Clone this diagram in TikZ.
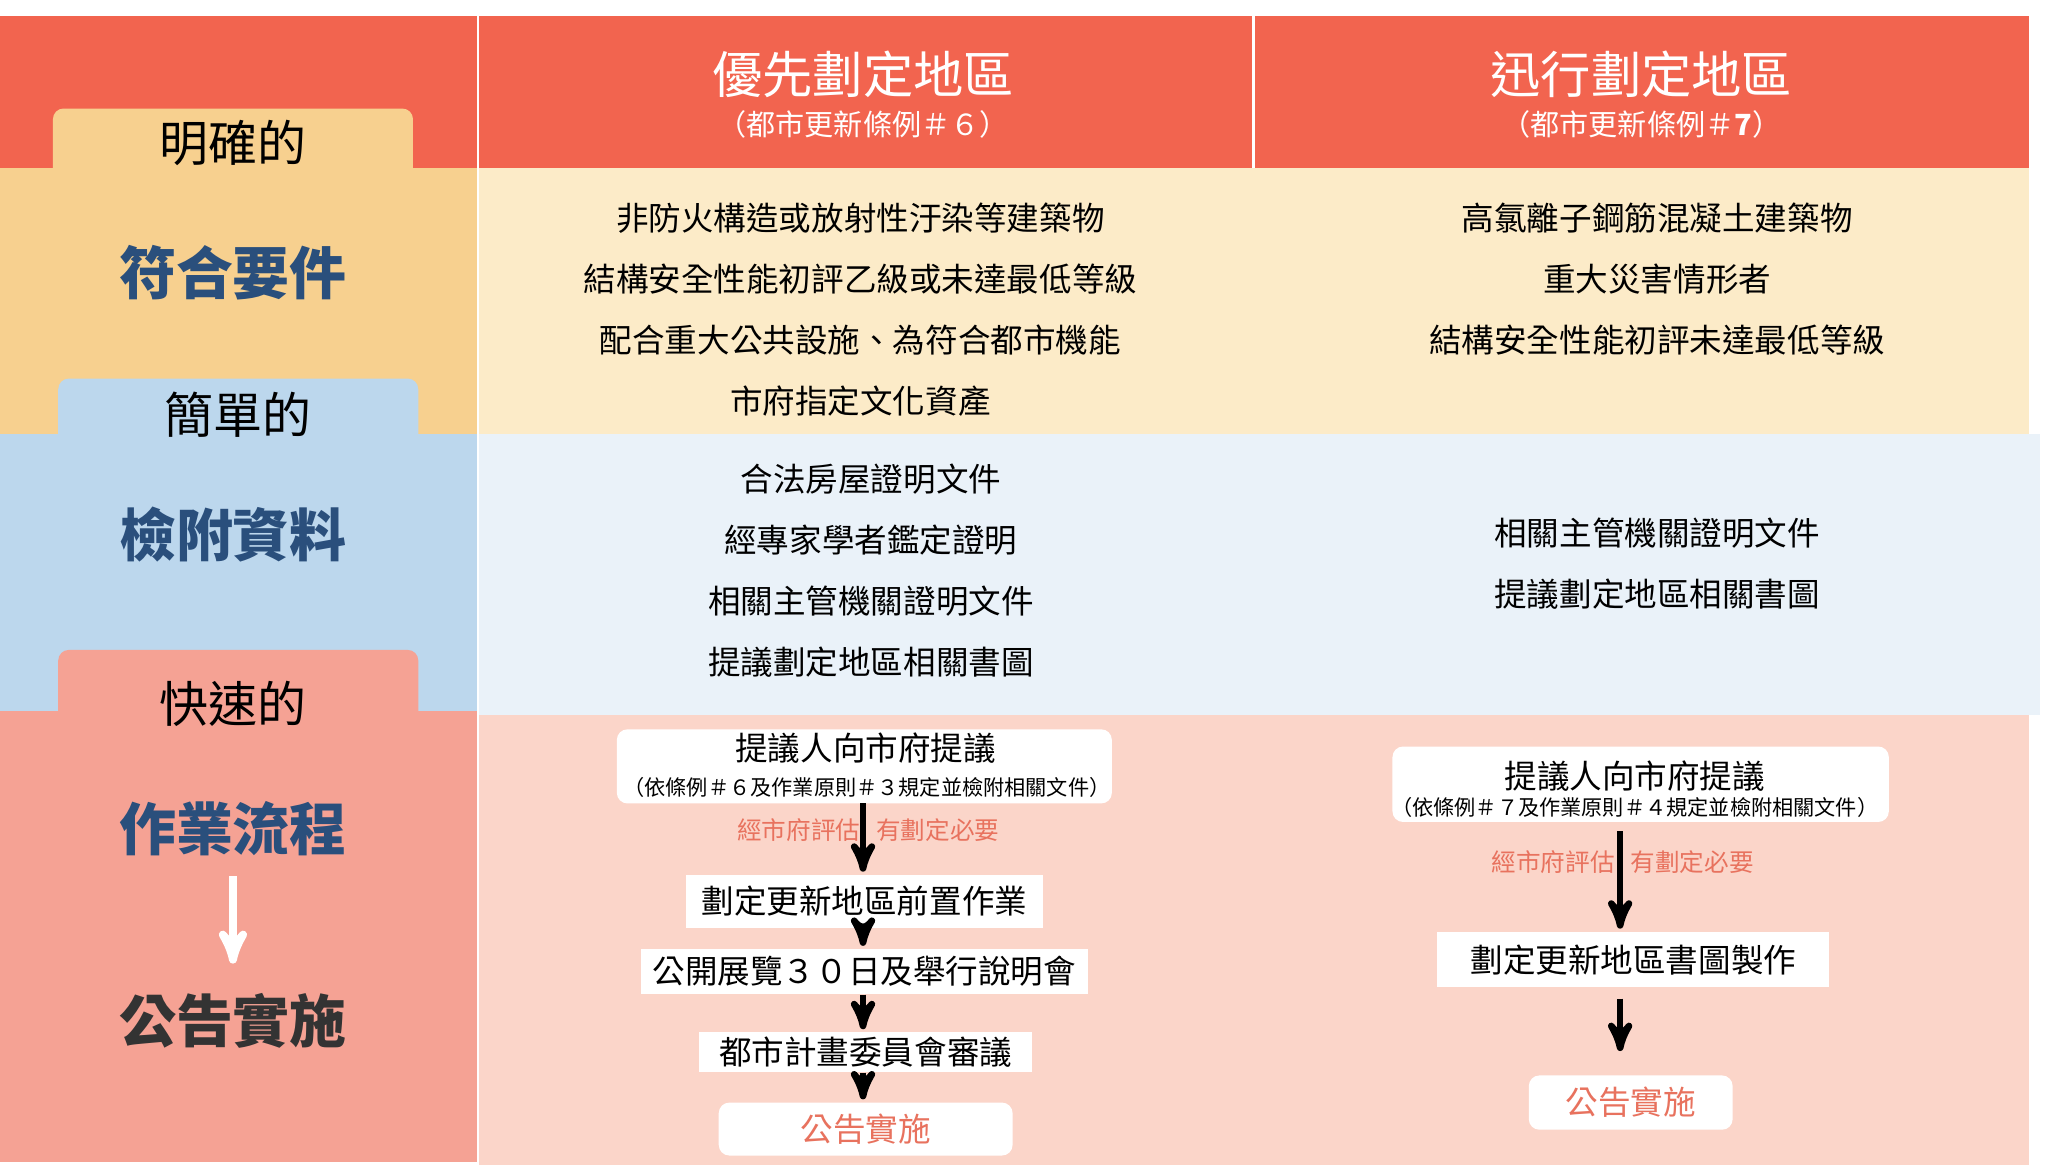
\documentclass[tikz,border=0pt]{standalone}
\usepackage{fontspec}
\setmainfont{Noto Sans CJK TC}
\usetikzlibrary{arrows}
\definecolor{hdred}{HTML}{F2644F}
\definecolor{tabor}{HTML}{F7D08F}
\definecolor{paleor}{HTML}{FCEBC8}
\definecolor{tabbl}{HTML}{BCD7ED}
\definecolor{palebl}{HTML}{EAF2F9}
\definecolor{tabsa}{HTML}{F5A294}
\definecolor{palesa}{HTML}{FBD5C9}
\definecolor{navy}{HTML}{2A4F7C}
\definecolor{salmtxt}{HTML}{E8725E}

\begin{document}
\begin{tikzpicture}[x=0.5pt,y=-0.5pt,>=stealth',
    lbl/.style={font=\fontsize{18.5}{20}\selectfont},
    key/.style={font=\fontsize{21.5}{24}\bfseries\selectfont,text=navy},
    head/.style={font=\fontsize{19}{21}\selectfont,text=white},
    sub/.style={font=\fontsize{11}{13}\selectfont,text=white},
    item/.style={font=\fontsize{12.3}{14}\selectfont},
    step box/.style={fill=white,font=\fontsize{12.3}{14}\selectfont,inner sep=0pt},
    note/.style={font=\fontsize{9.3}{11}\selectfont,text=salmtxt},
    flow/.style={->,line width=2.5pt,shorten >=1pt}]
\useasboundingbox (0,0) rectangle (1545,881);
\fill[white] (0,0) rectangle (1545,881);

% header row
\fill[hdred] (0,12) rectangle (360,127);
\fill[hdred] (362,12) rectangle (946,127);
\fill[hdred] (948,12) rectangle (1533,127);
\node[head] (H1) at (652,56) {優先劃定地區};
\node[sub] (S1) at (652,94) {（都市更新條例＃６）};
\node[head] (H2) at (1240,56) {迅行劃定地區};
\node[sub] (S2) at (1240,94) {（都市更新條例＃\textbf{7}）};

% row 1
\fill[tabor,rounded corners=4] (40,82) rectangle (312,140);
\fill[tabor] (0,127) rectangle (360,328);
\fill[paleor] (362,127) rectangle (1533,328);
\node[lbl] (T1) at (176,108) {明確的};
\node[key] (K1) at (176,206) {符合要件};
\foreach \t [count=\i] in {非防火構造或放射性汙染等建築物,結構安全性能初評乙級或未達最低等級,
    配合重大公共設施、為符合都市機能,市府指定文化資產}
  \node[item] (A\i) at (650,119+46*\i) {\t};
\foreach \t [count=\i] in {高氯離子鋼筋混凝土建築物,重大災害情形者,結構安全性能初評未達最低等級}
  \node[item] (B\i) at (1252,119+46*\i) {\t};

% row 2
\fill[tabbl,rounded corners=4] (44,286) rectangle (316,340);
\fill[tabbl] (0,328) rectangle (360,537);
\fill[palebl] (362,328) rectangle (1541,540);
\node[lbl] (T2) at (180,313) {簡單的};
\node[key] (K2) at (176,404) {檢附資料};
\foreach \t [count=\i] in {合法房屋證明文件,經專家學者鑑定證明,相關主管機關證明文件,提議劃定地區相關書圖}
  \node[item] (C\i) at (658,316+46*\i) {\t};
\foreach \t [count=\i] in {相關主管機關證明文件,提議劃定地區相關書圖}
  \node[item] (D\i) at (1252,357+46*\i) {\t};

% row 3
\fill[tabsa,rounded corners=4] (44,491) rectangle (316,550);
\fill[tabsa] (0,537) rectangle (360,878);
\fill[palesa] (362,540) rectangle (1533,880);
\node[lbl] (T3) at (176,532) {快速的};
\node[key] (K3) at (176,626) {作業流程};
\node[key,text=black!80] (K4) at (176,771) {公告實施};
\draw[->,white,line width=3pt] (176,662) -- (176,728);

% flow, left
\fill[white,rounded corners=4] (466,551) rectangle (840,607);
\coordinate (P1) at (652,607);
\node[item] (P1a) at (654,565) {提議人向市府提議};
\node[font=\fontsize{8}{9}\selectfont] (P1b) at (655,595) {（依條例＃６及作業原則＃３規定並檢附相關文件）};
\node[note] (N1) at (656,627) {經市府評估\hspace{6pt}有劃定必要};
\node[step box,minimum width=135pt,minimum height=20pt] (P2) at (653,681) {劃定更新地區前置作業};
\node[step box,minimum width=169pt,minimum height=17pt] (P3) at (653,734) {公開展覽３０日及舉行說明會};
\node[step box,minimum width=126pt,minimum height=15pt] (P4) at (654,795) {都市計畫委員會審議};
\node[step box,rounded corners=4,minimum width=111pt,minimum height=20pt,text=salmtxt] (P5) at (654,853) {公告實施};
\draw[flow] (P1) -- (P2.north -| P1);
\draw[flow] (P2.south -| P1) -- (P3.north -| P1);
\draw[flow] (P3.south -| P1) -- (P4.north -| P1);
\draw[flow] (P4.south -| P1) -- (P5.north -| P1);

% flow, right
\fill[white,rounded corners=4] (1052,564) rectangle (1427,621);
\coordinate (Q1) at (1224,628);
\node[item] (Q1a) at (1235,586) {提議人向市府提議};
\node[font=\fontsize{8}{9}\selectfont] (Q1b) at (1235,610) {（依條例＃７及作業原則＃４規定並檢附相關文件）};
\node[note] (N2) at (1226,651) {經市府評估\hspace{6pt}有劃定必要};
\node[step box,minimum width=148pt,minimum height=21pt] (Q2) at (1234,725) {劃定更新地區書圖製作};
\node[step box,rounded corners=4,minimum width=77pt,minimum height=20.5pt,text=salmtxt] (Q3) at (1232,833) {公告實施};
\draw[flow] (Q1) -- (Q2.north -| Q1);
\draw[flow] ([yshift=-4]Q2.south -| Q1) -- ([yshift=8]Q3.north -| Q1);
\end{tikzpicture}
\end{document}
